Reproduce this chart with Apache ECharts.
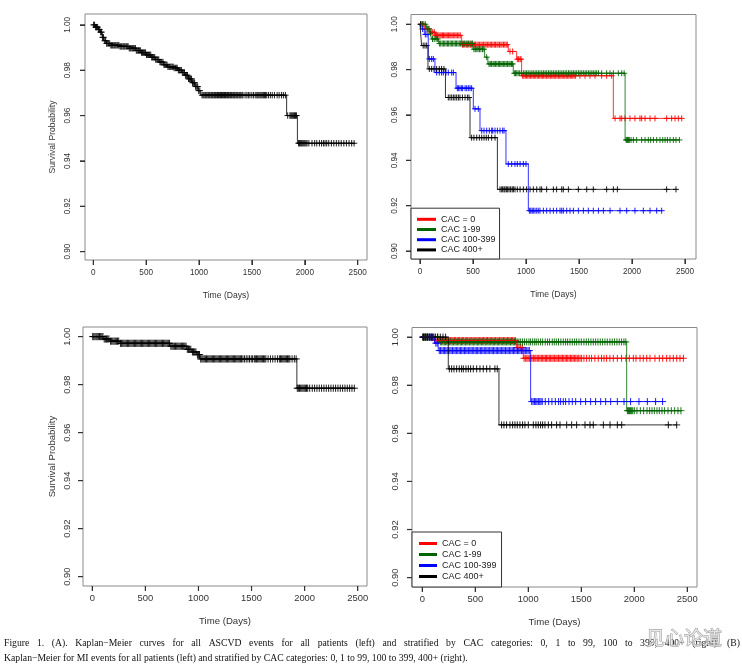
<!DOCTYPE html>
<html><head><meta charset="utf-8">
<script src="https://cdn.jsdelivr.net/npm/echarts@6/dist/echarts.min.js"></script>
<style>html,body{margin:0;padding:0;background:#fff}#c{width:742px;height:669px}</style>
</head><body><div id="c"></div><script>
// ---------------- DATA ----------------
const xTicks = [0, 500, 1000, 1500, 2000, 2500];
const yTicks = [0.90, 0.92, 0.94, 0.96, 0.98, 1.00];
const groupNames = ['CAC = 0', 'CAC 1-99', 'CAC 100-399', 'CAC 400+'];
const xTitle = 'Time (Days)';
const yTitle = 'Survival Probability';
const captionLine1 = 'Figure 1. (A). Kaplan\u2212Meier curves for all ASCVD events for all patients (left) and stratified by CAC categories: 0, 1 to 99, 100 to 399, 400+ (right). (B)';
const captionLine2 = 'Kaplan\u2212Meier for MI events for all patients (left) and stratified by CAC categories: 0, 1 to 99, 100 to 399, 400+ (right).';
const watermark = '见心论道';

// (A) all ASCVD events, all patients: [time, survival] after each event
const aAllSteps = [[0,1],[20,0.9990],[45,0.9980],[65,0.9968],[85,0.9945],[100,0.9930],[125,0.9918],[160,0.9910],[250,0.9905],[340,0.9897],[400,0.9887],[450,0.9878],[500,0.9868],[545,0.9857],[585,0.9847],[625,0.9836],[665,0.9824],[700,0.9815],[760,0.9810],[800,0.9800],[840,0.9790],[870,0.9778],[900,0.9762],[930,0.9745],[960,0.9728],[990,0.9710],[1015,0.9690],[1828,0.9600],[1930,0.9478]];
const aAllCensor = [3,12,22,30,41,50,58,69,78,88,97,108,117,126,137,146,155,166,175,184,195,204,213,224,233,242,253,262,271,282,291,300,311,320,329,340,349,358,369,378,387,398,407,416,427,436,445,456,465,474,485,494,503,514,523,532,543,552,561,572,581,590,601,610,619,630,639,648,659,668,677,688,697,706,717,726,735,746,755,764,775,784,793,804,813,822,833,842,851,862,871,880,891,900,909,920,929,938,949,958,967,978,987,996,1007,
 1028,1038,1047,1058,1067,1076,1087,1096,1105,1116,1125,1134,1145,1154,1163,1174,1183,1192,1203,1212,1221,1232,1241,1250,1261,1270,1279,1290,1299,1308,1319,1328,1337,1348,1357,1366,1377,1386,1395,1406,1415,
 1435,1452,1466,1481,1499,1514,1531,1546,1556,1566,1577,1587,1597,1608,1618,1629,1640,1656,1674,1692,1713,1738,1757,1779,1797,1816,
 1838,1859,1868,1877,1886,1895,1903,1912,1921,
 1941,1949,1957,1966,1974,1983,1992,2001,2011,2021,2038,2068,2093,2113,2138,2158,2176,2191,2207,2226,2251,2274,2298,2321,2344,2369,2393,2418,2443,2466];

// (A) stratified by CAC
const aCac0Steps = [[0,1],[40,0.9980],[90,0.9965],[141,0.9951],[393,0.9910],[833,0.9880],[912,0.9846],[959,0.9773],[1824,0.9585]];
const aCac0Censor = [10,25,50,70,85,105,120,135,146,155,166,178,189,200,213,222,234,246,257,268,281,292,304,318,329,341,355,367,380,401,412,424,437,449,462,476,487,500,513,524,538,549,562,575,587,600,613,624,638,650,663,674,688,701,712,726,737,750,763,774,788,800,813,824,849,874,918,930,944,953,968,980,993,1005,1017,1030,1043,1055,1068,1079,1092,1106,1117,1130,1143,1155,1167,1180,1193,1206,1217,1230,1243,1255,1267,1280,1293,1306,1318,1330,1342,1356,1367,1380,1393,1405,1418,1431,1442,1455,1468,1509,1557,1604,1651,1714,1761,1808,1840,1887,1903,1934,1981,2028,2075,2091,2123,2170,2217,2327,2374,2406,2437,2469];
const aCac1Steps = [[0,1],[60,0.9980],[95,0.9960],[110,0.9935],[175,0.9915],[500,0.9890],[610,0.9855],[640,0.9825],[880,0.9784],[1935,0.9490]];
const aCac1Censor = [8,22,36,51,66,82,100,118,134,152,166,183,195,209,221,233,246,259,270,284,296,308,321,334,345,358,371,383,396,408,421,434,445,458,471,483,496,509,522,536,548,561,575,590,604,629,651,663,675,689,700,713,725,739,750,763,775,789,800,813,825,839,850,863,874,890,901,913,926,940,956,975,991,1006,1021,1038,1055,1069,1086,1101,1117,1132,1149,1164,1180,1195,1212,1227,1243,1258,1275,1290,1306,1321,1338,1352,1369,1384,1401,1415,1432,1447,1463,1478,1495,1510,1526,1541,1558,1573,1589,1604,1621,1635,1652,1667,1684,1714,1761,1792,1824,1871,1903,1926,1944,1951,1958,1966,1975,1991,2013,2044,2091,2123,2154,2176,2202,2233,2264,2290,2312,2334,2359,2390,2415,2447];
const aCac2Steps = [[0,1],[10,0.9979],[40,0.9955],[78,0.9847],[141,0.9787],[340,0.9718],[503,0.9627],[566,0.9531],[811,0.9384],[1022,0.9178]];
const aCac2Censor = [25,50,66,88,110,126,157,182,204,220,245,267,299,315,352,362,377,393,403,425,440,456,472,487,519,550,582,604,629,654,676,686,708,730,755,780,793,833,865,896,918,944,975,1000,1032,1045,1058,1069,1085,1101,1116,1132,1164,1195,1227,1258,1289,1321,1337,1352,1384,1415,1447,1494,1541,1588,1635,1683,1730,1793,1887,1950,2028,2107,2170,2233,2280];
const aCac3Steps = [[0,1],[15,0.9906],[75,0.9803],[240,0.9677],[472,0.9500],[730,0.9272]];
const aCac3Censor = [5,30,47,63,88,110,132,157,182,204,226,267,283,299,315,330,346,362,377,400,425,447,462,487,509,535,560,582,604,625,645,676,708,755,771,780,793,802,815,827,840,855,870,881,896,918,944,975,1006,1038,1069,1101,1132,1148,1195,1258,1289,1337,1352,1400,1494,1573,1635,1761,1824,1862,2327,2415];

// (B) MI events, all patients
const bAllSteps = [[0,1],[103,0.9990],[166,0.9981],[260,0.9972],[732,0.9960],[889,0.9947],[936,0.9936],[983,0.9925],[1014,0.9907],[1927,0.9785]];
const bAllCensor = [4,14,25,36,46,57,68,79,90,100,112,123,134,145,156,172,183,194,205,216,227,238,249,265,276,287,298,309,320,331,342,353,364,375,386,397,408,419,430,441,452,463,474,485,496,507,518,529,540,551,562,573,584,595,606,617,628,639,650,661,672,683,694,705,716,727,740,751,762,773,784,795,806,817,828,839,850,861,872,883,895,906,917,928,943,954,965,976,990,1001,1010,
 1021,1032,1043,1054,1065,1076,1087,1098,1109,1120,1131,1142,1153,1164,1175,1186,1197,1208,1219,1230,1241,1252,1263,1274,1285,1296,1307,1318,1329,1340,1351,1362,1373,1384,1395,1406,1419,1434,1450,1466,1481,1497,1510,1526,1536,1547,1558,1569,1580,1591,1602,1613,1624,1635,1656,1678,1700,1722,1744,1762,1773,1784,1795,1806,1817,1828,1839,1850,1861,1882,1903,1920,
 1931,1941,1952,1963,1974,1985,1996,2007,2018,2029,2048,2072,2094,2116,2138,2160,2182,2204,2226,2248,2270,2292,2314,2336,2358,2380,2402,2424,2446,2468];

// (B) stratified by CAC
const bCac0Steps = [[0,1],[105,0.9986],[890,0.9957],[953,0.9912]];
const bCac0Censor = [10,30,50,70,90,115,128,141,152,166,178,190,204,215,228,241,252,266,278,290,304,315,328,341,352,366,378,390,404,415,428,441,452,466,478,490,504,515,528,541,552,566,578,590,604,615,628,641,652,666,678,690,704,715,728,741,752,766,778,790,804,815,828,841,852,866,878,896,912,928,944,960,972,986,998,1010,1023,1035,1048,1061,1072,1085,1098,1110,1123,1135,1148,1161,1172,1185,1198,1210,1223,1235,1248,1261,1272,1285,1298,1310,1323,1335,1348,1361,1372,1385,1398,1410,1423,1435,1448,1461,1472,1488,1503,1525,1550,1575,1597,1628,1660,1691,1714,1739,1770,1802,1840,1880,1921,1953,1991,2016,2054,2085,2117,2148,2195,2236,2268,2305,2336,2368,2400,2431,2463];
const bCac1Steps = [[0,1],[160,0.9980],[1928,0.9694]];
const bCac1Censor = [8,25,45,65,85,105,125,145,170,182,195,208,220,232,245,258,270,282,295,308,320,332,345,358,370,382,395,408,420,432,445,458,470,482,495,508,520,532,545,558,570,582,595,608,620,632,645,658,670,682,695,708,720,732,745,758,770,782,795,808,820,832,845,858,870,882,895,912,928,946,965,985,1006,1022,1041,1060,1075,1094,1116,1135,1160,1182,1201,1226,1245,1264,1285,1307,1330,1352,1371,1393,1415,1437,1456,1478,1500,1525,1547,1569,1591,1613,1635,1657,1679,1701,1723,1745,1770,1792,1814,1836,1858,1880,1902,1920,1935,1945,1955,1965,1975,1985,2000,2025,2057,2088,2120,2145,2167,2189,2214,2236,2261,2286,2318,2349,2381,2412,2440];
const bCac2Steps = [[0,1],[115,0.9975],[150,0.9944],[1022,0.9732]];
const bCac2Censor = [10,30,50,75,95,128,140,160,172,185,198,210,222,235,248,260,272,285,298,310,322,335,348,360,372,385,398,410,422,435,448,460,472,485,498,510,522,535,548,560,572,585,598,610,622,635,648,660,672,685,698,710,722,735,748,760,772,785,798,810,822,835,848,860,872,885,898,910,922,935,948,960,972,985,998,1010,1032,1045,1058,1070,1082,1095,1108,1120,1132,1160,1192,1223,1255,1286,1305,1330,1352,1384,1415,1447,1494,1541,1588,1635,1683,1730,1777,1840,1903,1965,2044,2123,2201,2267];
const bCac3Steps = [[0,1],[245,0.9868],[723,0.9635]];
const bCac3Censor = [5,15,25,35,45,55,70,85,100,120,145,170,195,220,255,277,299,324,349,371,387,412,434,456,481,513,544,575,607,638,685,707,748,770,795,827,852,874,896,921,946,968,1000,1047,1072,1094,1116,1135,1157,1189,1220,1267,1299,1362,1409,1456,1535,1582,1613,1708,1771,1840,1881,2321,2400];

// ---------------- LAYOUT / STYLE ----------------
const groupColors = ['#ff0000', '#006400', '#0000ff', '#000000'];
const FONT = '"Liberation Sans", Arial, sans-serif';
const frameColor = '#8a8a8a';
const tickColor = '#333333';
const panels = [
  { grid:{left:85, top:14, width:282, height:246}, x:[-78.5,2587.9], y:[0.8963,1.0048],
    tickFont:8.2, titleFont:8.6, yMargin:13, xMargin:9, xNameGap:31, showYName:true, yNameGap:28, half:3.2, tickLen:5,
    curves:[{name:'All', steps:aAllSteps, censor:aAllCensor, color:'#000000'}] },
  { grid:{left:411, top:14.5, width:285, height:244.5}, x:[-84.9,2603.8], y:[0.8965,1.0043],
    tickFont:8.2, titleFont:8.6, yMargin:12.5, xMargin:9, xNameGap:31, showYName:false, yNameGap:28, half:3, tickLen:5,
    curves:[
      {name:groupNames[0], steps:aCac0Steps, censor:aCac0Censor, color:groupColors[0]},
      {name:groupNames[1], steps:aCac1Steps, censor:aCac1Censor, color:groupColors[1]},
      {name:groupNames[2], steps:aCac2Steps, censor:aCac2Censor, color:groupColors[2]},
      {name:groupNames[3], steps:aCac3Steps, censor:aCac3Censor, color:groupColors[3]}] },
  { grid:{left:83, top:327, width:284, height:259}, x:[-87.6,2587.6], y:[0.8961,1.0040],
    tickFont:9.4, titleFont:9.6, yMargin:11, xMargin:8, xNameGap:30, showYName:true, yNameGap:26, half:3.6, tickLen:5,
    curves:[{name:'All MI', steps:bAllSteps, censor:bAllCensor, color:'#000000'}] },
  { grid:{left:412, top:327.5, width:285, height:259.5}, x:[-97.2,2591.5], y:[0.8961,1.0040],
    tickFont:9.4, titleFont:9.6, yMargin:12, xMargin:8, xNameGap:30, showYName:false, yNameGap:26, half:3.5, tickLen:5,
    curves:[
      {name:groupNames[0], steps:bCac0Steps, censor:bCac0Censor, color:groupColors[0]},
      {name:groupNames[1], steps:bCac1Steps, censor:bCac1Censor, color:groupColors[1]},
      {name:groupNames[2], steps:bCac2Steps, censor:bCac2Censor, color:groupColors[2]},
      {name:groupNames[3], steps:bCac3Steps, censor:bCac3Censor, color:groupColors[3]}] }
];

function survAt(steps, t) {
  let s = steps[0][1];
  for (const p of steps) { if (p[0] <= t) s = p[1]; }
  return s;
}

const grids = [], xAxes = [], yAxes = [], series = [];
panels.forEach((p, i) => {
  grids.push(Object.assign({show:true, borderColor:frameColor, borderWidth:1, backgroundColor:'transparent'}, p.grid));
  xAxes.push({
    type:'value', gridIndex:i, min:p.x[0], max:p.x[1],
    axisLine:{show:false, onZero:false}, splitLine:{show:false},
    axisTick:{show:true, inside:false, customValues:xTicks, length:p.tickLen, lineStyle:{color:tickColor, width:1}},
    axisLabel:{show:true, customValues:xTicks, fontSize:p.tickFont, fontFamily:FONT, color:'#333', margin:p.xMargin, formatter:v=>String(v)},
    name:xTitle, nameLocation:'middle', nameGap:p.xNameGap,
    nameTextStyle:{fontSize:p.titleFont, fontFamily:FONT, color:'#333'}
  });
  yAxes.push({
    type:'value', gridIndex:i, min:p.y[0], max:p.y[1],
    axisLine:{show:false, onZero:false}, splitLine:{show:false},
    axisTick:{show:true, inside:false, customValues:yTicks, length:p.tickLen, lineStyle:{color:tickColor, width:1}},
    axisLabel:{show:true, customValues:yTicks, rotate:90, fontSize:p.tickFont, fontFamily:FONT, color:'#333', margin:p.yMargin, formatter:v=>v.toFixed(2)},
    name:p.showYName ? yTitle : '', nameLocation:'middle', nameGap:p.yNameGap,
    nameTextStyle:{fontSize:p.titleFont, fontFamily:FONT, color:'#333'}
  });
  p.curves.forEach(c => {
    const last = c.steps[c.steps.length - 1];
    const end = Math.max(last[0], ...c.censor);
    series.push({
      type:'line', name:c.name, xAxisIndex:i, yAxisIndex:i, step:'end',
      data:c.steps.concat([[end, last[1]]]), symbol:'none', color:c.color,
      itemStyle:{color:c.color}, lineStyle:{color:c.color, width:1, opacity:0.8},
      silent:true, animation:false
    });
    const half = p.half;
    series.push({
      type:'custom', name:c.name + ' censored', coordinateSystem:'cartesian2d', xAxisIndex:i, yAxisIndex:i,
      data:c.censor.map(t => [t, survAt(c.steps, t)]), silent:true, animation:false,
      renderItem:(params, api) => {
        const pt = api.coord([api.value(0), api.value(1)]);
        const st = {stroke:c.color, lineWidth:1, opacity:0.9};
        return {type:'group', children:[
          {type:'line', shape:{x1:pt[0]-half, y1:pt[1], x2:pt[0]+half, y2:pt[1]}, style:st},
          {type:'line', shape:{x1:pt[0], y1:pt[1]-half, x2:pt[0], y2:pt[1]+half}, style:st}
        ]};
      }
    });
  });
});

const legendBase = {
  data:groupNames, orient:'vertical', icon:'rect', itemWidth:19, itemHeight:3, itemGap:0,
  borderColor:'#333', borderWidth:1, backgroundColor:'#fff', selectedMode:false,
  textStyle:{fontSize:9, fontFamily:FONT, color:'#222'}
};
const legends = [
  Object.assign({}, legendBase, {left:411, bottom:669-259, padding:[6,4,4,6], textStyle:Object.assign({}, legendBase.textStyle, {lineHeight:10.2})}),
  Object.assign({}, legendBase, {left:412, bottom:669-587, padding:[6,5,5,7], itemWidth:18, textStyle:Object.assign({}, legendBase.textStyle, {lineHeight:11})})
];

// caption (line 1 justified between left and right edge)
const capFont = 9.7, capFamily = '"Liberation Serif", "Times New Roman", serif';
const capLeft = 4, capRight = 740;
const mctx = document.createElement('canvas').getContext('2d');
mctx.font = capFont + 'px ' + capFamily;
const words1 = captionLine1.split(' ');
const wW = words1.map(w => mctx.measureText(w).width);
const gapW = (capRight - capLeft - wW.reduce((a, b) => a + b, 0)) / (words1.length - 1);
const graphics = [];
let cx = capLeft;
words1.forEach((w, k) => {
  graphics.push({type:'text', x:cx, y:643, style:{text:w, fontSize:capFont, fontFamily:capFamily, fill:'#111', align:'left', verticalAlign:'middle'}, silent:true});
  cx += wW[k] + gapW;
});
graphics.push({type:'text', x:capLeft, y:658.5, style:{text:captionLine2, fontSize:capFont, fontFamily:capFamily, fill:'#111', align:'left', verticalAlign:'middle'}, silent:true});
graphics.push({type:'text', x:684, y:638, style:{text:watermark, fontSize:19, fontFamily:'"Noto Sans CJK SC", sans-serif', fill:'rgba(255,255,255,0.55)', stroke:'#9a9a9a', lineWidth:0.9, align:'center', verticalAlign:'middle'}, silent:true});

const chart = echarts.init(document.getElementById('c'), null, {renderer:'canvas'});
chart.setOption({
  animation:false,
  backgroundColor:'#ffffff',
  textStyle:{fontFamily:FONT},
  grid:grids, xAxis:xAxes, yAxis:yAxes, legend:legends, series:series
});

// extra tick marks outside each frame, placed through each axis' own scale
panels.forEach((p, i) => {
  const tl = p.tickLen;
  const left = chart.convertToPixel({xAxisIndex:i}, p.x[0]);
  const bottom = chart.convertToPixel({yAxisIndex:i}, p.y[0]);
  if (!isFinite(left) || !isFinite(bottom)) return;
  xTicks.forEach(v => {
    const x = chart.convertToPixel({xAxisIndex:i}, v);
    if (isFinite(x)) graphics.push({type:'rect', silent:true, z:100, shape:{x:x - 0.6, y:bottom, width:1.2, height:tl}, style:{fill:tickColor}});
  });
  yTicks.forEach(v => {
    const y = chart.convertToPixel({yAxisIndex:i}, v);
    if (isFinite(y)) graphics.push({type:'rect', silent:true, z:100, shape:{x:left - tl, y:y - 0.6, width:tl, height:1.2}, style:{fill:tickColor}});
  });
});
chart.setOption({graphic:graphics});
</script></body></html>
